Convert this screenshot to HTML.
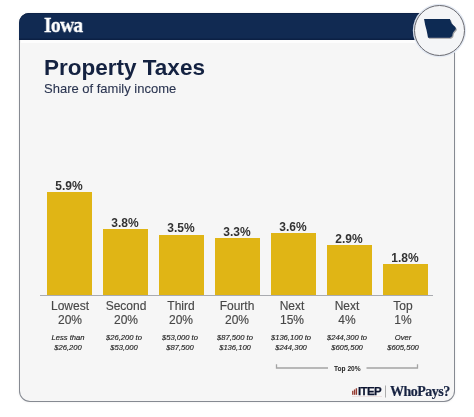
<!DOCTYPE html>
<html><head><meta charset="utf-8">
<style>
html,body{margin:0;padding:0;}
body>div{will-change:transform;}
body{width:474px;height:417px;background:#fff;position:relative;overflow:hidden;font-family:"Liberation Sans",sans-serif;}
.card{position:absolute;left:19px;top:13px;width:434px;height:388.2px;background:#f6f6f6;border:1.5px solid #868a92;border-top:none;border-radius:10px 0 11px 11px;box-shadow:0 0 3px rgba(0,0,0,0.08);}
.band{position:absolute;left:19px;top:13px;width:410px;height:26.5px;background:#112a52;border-radius:10px 0 0 0;box-shadow:inset 0 -1.5px 0 #0c2044, inset 0 1px 0 #0e2348;}
.iowa{position:absolute;left:44.4px;top:11.7px;font-family:"Liberation Serif",serif;font-weight:bold;font-size:22px;color:#fff;letter-spacing:-0.8px;-webkit-text-stroke:0.35px #fff;transform:scaleX(0.89);transform-origin:0 0;}
.circle{position:absolute;left:413.9px;top:5.1px;width:49.2px;height:49.2px;border-radius:50%;background:#f4f5f7;border:1.3px solid #6a6a70;box-shadow:0 0 0 1.2px rgba(225,232,242,0.95);}
.title{position:absolute;left:44px;top:54.8px;font-weight:bold;font-size:22.5px;color:#142241;white-space:nowrap;}
.sub{position:absolute;left:44px;top:80.5px;font-size:13px;color:#2a3450;-webkit-text-stroke:0.1px #2a3450;white-space:nowrap;}
.bar{position:absolute;width:45px;background:#e0b515;}
.pct{position:absolute;width:56px;text-align:center;font-weight:bold;font-size:12px;color:#333;}
.cat{position:absolute;width:60px;text-align:center;font-size:12px;line-height:14px;color:#474747;-webkit-text-stroke:0.15px #474747;}
.rng{position:absolute;width:60px;text-align:center;font-style:italic;font-size:7.6px;line-height:9.5px;color:#1e1e1e;-webkit-text-stroke:0.15px #1e1e1e;}
.axis{position:absolute;left:40px;top:295px;width:393px;height:1px;background:#a9abb0;}
</style></head><body>
<div class="card"></div>
<div style="position:absolute;left:20.5px;top:39.5px;width:434px;height:3px;background:#fdfdfd;"></div>
<div class="band"></div>
<div class="iowa">Iowa</div>
<div class="circle"></div>
<svg style="position:absolute;left:0;top:0" width="474" height="417">
  <defs><filter id="sh" x="-20%" y="-20%" width="140%" height="140%"><feDropShadow dx="1" dy="1" stdDeviation="0.7" flood-color="#000" flood-opacity="0.35"/></filter></defs>
  <path d="M424.05 19.05 L449.96 18.9 L450.55 20.9 L451.65 23.44 L453.33 25.13 L455.02 26.81 L455.86 28.5 L455.44 29.77 L454.18 31.03 L452.91 32.72 L452.49 34.41 L452.24 36.1 L451.22 37.11 L449.96 37.78 L428.02 37.78 L427.43 34.41 L426.58 30.19 L425.23 25.13 Z" fill="#112a52" filter="url(#sh)"/>
</svg>
<div class="title">Property Taxes</div>
<div class="sub">Share of family income</div>
<div class="axis"></div>
<!--BARS-->
<div class="bar" style="left:47px;top:192.0px;height:103.0px"></div>
<div class="pct" style="left:41.0px;top:178.7px">5.9%</div>
<div class="cat" style="left:40.2px;top:299px">Lowest<br>20%</div>
<div class="rng" style="left:37.8px;top:332.5px">Less than<br>$26,200</div>
<div class="bar" style="left:103px;top:229.4px;height:65.6px"></div>
<div class="pct" style="left:97.0px;top:216.1px">3.8%</div>
<div class="cat" style="left:95.65px;top:299px">Second<br>20%</div>
<div class="rng" style="left:93.65px;top:332.5px">$26,200 to<br>$53,000</div>
<div class="bar" style="left:159px;top:234.6px;height:60.4px"></div>
<div class="pct" style="left:153.0px;top:221.3px">3.5%</div>
<div class="cat" style="left:151.1px;top:299px">Third<br>20%</div>
<div class="rng" style="left:149.5px;top:332.5px">$53,000 to<br>$87,500</div>
<div class="bar" style="left:215px;top:238.1px;height:56.9px"></div>
<div class="pct" style="left:209.0px;top:224.8px">3.3%</div>
<div class="cat" style="left:206.55px;top:299px">Fourth<br>20%</div>
<div class="rng" style="left:205.35px;top:332.5px">$87,500 to<br>$136,100</div>
<div class="bar" style="left:271px;top:232.9px;height:62.1px"></div>
<div class="pct" style="left:265.0px;top:219.6px">3.6%</div>
<div class="cat" style="left:262.0px;top:299px">Next<br>15%</div>
<div class="rng" style="left:261.2px;top:332.5px">$136,100 to<br>$244,300</div>
<div class="bar" style="left:327px;top:245.0px;height:50.0px"></div>
<div class="pct" style="left:321.0px;top:231.7px">2.9%</div>
<div class="cat" style="left:317.45px;top:299px">Next<br>4%</div>
<div class="rng" style="left:317.05px;top:332.5px">$244,300 to<br>$605,500</div>
<div class="bar" style="left:383px;top:264.1px;height:30.9px"></div>
<div class="pct" style="left:377.0px;top:250.8px">1.8%</div>
<div class="cat" style="left:372.9px;top:299px">Top<br>1%</div>
<div class="rng" style="left:372.9px;top:332.5px">Over<br>$605,500</div>
<!--/BARS-->
<!--FOOT-->
<svg style="position:absolute;left:0;top:0" width="474" height="417">
  <path d="M276.5 364.3 L276.5 368 L328 368" fill="none" stroke="#a4a4a4" stroke-width="1.3"/>
  <path d="M366.5 368 L417.5 368 L417.5 364.3" fill="none" stroke="#a4a4a4" stroke-width="1.3"/>
  <rect x="352.1" y="390.8" width="1.3" height="4" fill="#93392f"/>
  <rect x="353.9" y="389.5" width="1.3" height="5.3" fill="#93392f"/>
  <rect x="355.7" y="388.3" width="1.4" height="6.5" fill="#93392f"/>
  <rect x="352" y="396.4" width="30" height="0.6" fill="#e6d2d2"/>
  <rect x="385" y="385.5" width="0.8" height="12" fill="#9a9a9a"/>
</svg>
<div style="position:absolute;left:334.3px;top:364.5px;font-weight:bold;font-size:6.6px;color:#1e1e1e;white-space:nowrap">Top 20%</div>
<div style="position:absolute;left:357.6px;top:384.5px;font-weight:bold;font-size:11.5px;color:#0d1530;letter-spacing:-0.6px;-webkit-text-stroke:0.25px #0d1530;white-space:nowrap">ITEP</div>
<div style="position:absolute;left:390px;top:383.5px;font-family:'Liberation Serif',serif;font-weight:bold;font-size:14px;color:#172342;letter-spacing:-0.5px;-webkit-text-stroke:0.2px #172342;white-space:nowrap">WhoPays?</div>
<!--/FOOT-->
</body></html>
